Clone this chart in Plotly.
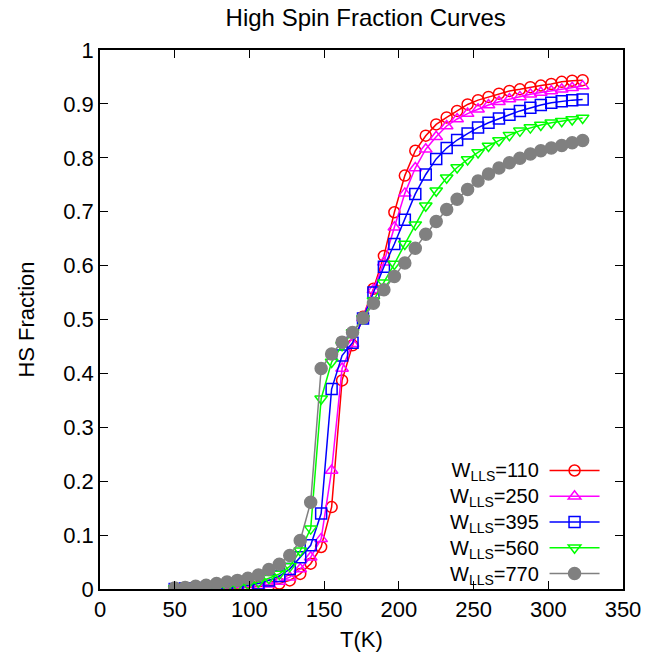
import plotly.graph_objects as go

# Temperatures (K)
T = [50, 57, 64, 71, 78, 85, 92, 99, 106, 113,
     120, 127, 134, 141, 148, 155, 162, 169, 176, 183,
     190, 197, 204, 211, 218, 225, 232, 239, 246, 253,
     260, 267, 274, 281, 288, 295, 302, 309, 316, 323]

hs_110 = [0.000, 0.000, 0.000, 0.001, 0.001, 0.001, 0.002, 0.003, 0.004, 0.006,
          0.010, 0.016, 0.028, 0.047, 0.078, 0.152, 0.387, 0.452, 0.505, 0.557,
          0.618, 0.699, 0.767, 0.813, 0.841, 0.862, 0.875, 0.887, 0.899, 0.907,
          0.913, 0.919, 0.924, 0.927, 0.931, 0.934, 0.937, 0.941, 0.943, 0.944]

hs_250 = [0.000, 0.000, 0.001, 0.001, 0.001, 0.002, 0.003, 0.004, 0.006, 0.009,
          0.014, 0.022, 0.037, 0.059, 0.093, 0.220, 0.409, 0.455, 0.503, 0.555,
          0.606, 0.671, 0.734, 0.781, 0.816, 0.839, 0.859, 0.872, 0.882, 0.890,
          0.898, 0.904, 0.909, 0.913, 0.918, 0.921, 0.924, 0.927, 0.930, 0.933]

hs_395 = [0.000, 0.001, 0.001, 0.002, 0.002, 0.003, 0.005, 0.007, 0.010, 0.016,
          0.024, 0.037, 0.059, 0.081, 0.140, 0.371, 0.433, 0.457, 0.502, 0.550,
          0.598, 0.640, 0.685, 0.733, 0.769, 0.798, 0.818, 0.833, 0.845, 0.856,
          0.865, 0.873, 0.880, 0.887, 0.893, 0.898, 0.902, 0.905, 0.907, 0.908]

hs_560 = [0.001, 0.001, 0.002, 0.002, 0.003, 0.004, 0.006, 0.009, 0.013, 0.020,
          0.028, 0.042, 0.071, 0.112, 0.353, 0.421, 0.452, 0.476, 0.502, 0.535,
          0.568, 0.603, 0.640, 0.676, 0.711, 0.739, 0.763, 0.782, 0.797, 0.810,
          0.822, 0.832, 0.842, 0.850, 0.856, 0.861, 0.865, 0.868, 0.871, 0.874]

hs_770 = [0.002, 0.003, 0.005, 0.007, 0.010, 0.013, 0.016, 0.020, 0.026, 0.036,
          0.046, 0.062, 0.090, 0.161, 0.409, 0.436, 0.458, 0.476, 0.503, 0.530,
          0.555, 0.580, 0.605, 0.632, 0.658, 0.682, 0.704, 0.723, 0.741, 0.757,
          0.770, 0.781, 0.791, 0.799, 0.807, 0.813, 0.818, 0.823, 0.828, 0.832]

legend_labels = ["W<sub>LLS</sub>=110", "W<sub>LLS</sub>=250", "W<sub>LLS</sub>=395",
                 "W<sub>LLS</sub>=560", "W<sub>LLS</sub>=770"]
values = [hs_110, hs_250, hs_395, hs_560, hs_770]
colors = ["#ff0000", "#ff00ff", "#0000ff", "#00ff00", "#808080"]
symbols = ["circle-open", "triangle-up-open", "square-open", "triangle-down-open", "circle"]
sizes = [11, 11, 11, 11, 12]

FONT = "Liberation Sans"
FS = 22

fig = go.Figure()
for label, vals, color, sym, size in zip(legend_labels, values, colors, symbols, sizes):
    fig.add_trace(go.Scatter(
        x=T, y=vals, name=" ", mode="lines+markers",
        hovertext=label.replace("<sub>", "").replace("</sub>", ""),
        line=dict(color=color, width=1.5),
        marker=dict(symbol=sym, size=size, color=color,
                    line=dict(color=color, width=1.5)),
    ))

# legend labels, drawn to the left of the legend samples (gnuplot style)
fig.add_annotation(text="<br>".join(legend_labels), xref="paper", yref="paper",
                   x=0.8425, y=0.1208, xanchor="right", yanchor="middle", align="right",
                   showarrow=False, font=dict(family=FONT, size=20, color="black"))

axis_common = dict(
    showline=True, linecolor="black", linewidth=1.5, mirror="ticks",
    ticks="inside", ticklen=8, tickwidth=1.2, tickcolor="black",
    showgrid=False, zeroline=False,
    tickfont=dict(family=FONT, size=FS, color="black"),
)

fig.update_layout(
    width=653, height=665,
    margin=dict(l=100, r=26, t=50, b=76),
    paper_bgcolor="white", plot_bgcolor="white",
    title=dict(text="High Spin Fraction Curves", x=0.56, xanchor="center",
               y=0.973, yanchor="middle",
               font=dict(family=FONT, size=24, color="black")),
    xaxis=dict(range=[0, 350], dtick=50, tick0=0,
               title=dict(text="T(K)", font=dict(family=FONT, size=FS, color="black"),
                          standoff=10),
               **axis_common),
    yaxis=dict(range=[0, 1], dtick=0.1, tick0=0,
               title=dict(text="HS Fraction", font=dict(family=FONT, size=FS, color="black"),
                          standoff=23),
               **axis_common),
    legend=dict(x=0.850, xanchor="left", y=0.253, yanchor="top",
                bgcolor="rgba(0,0,0,0)", borderwidth=0,
                font=dict(family=FONT, size=17.5, color="black"),
                tracegroupgap=0, itemwidth=50),
    showlegend=True,
)

fig.write_html("out.html", config={"displayModeBar": False},
               post_script="document.body.style.margin='0';")
